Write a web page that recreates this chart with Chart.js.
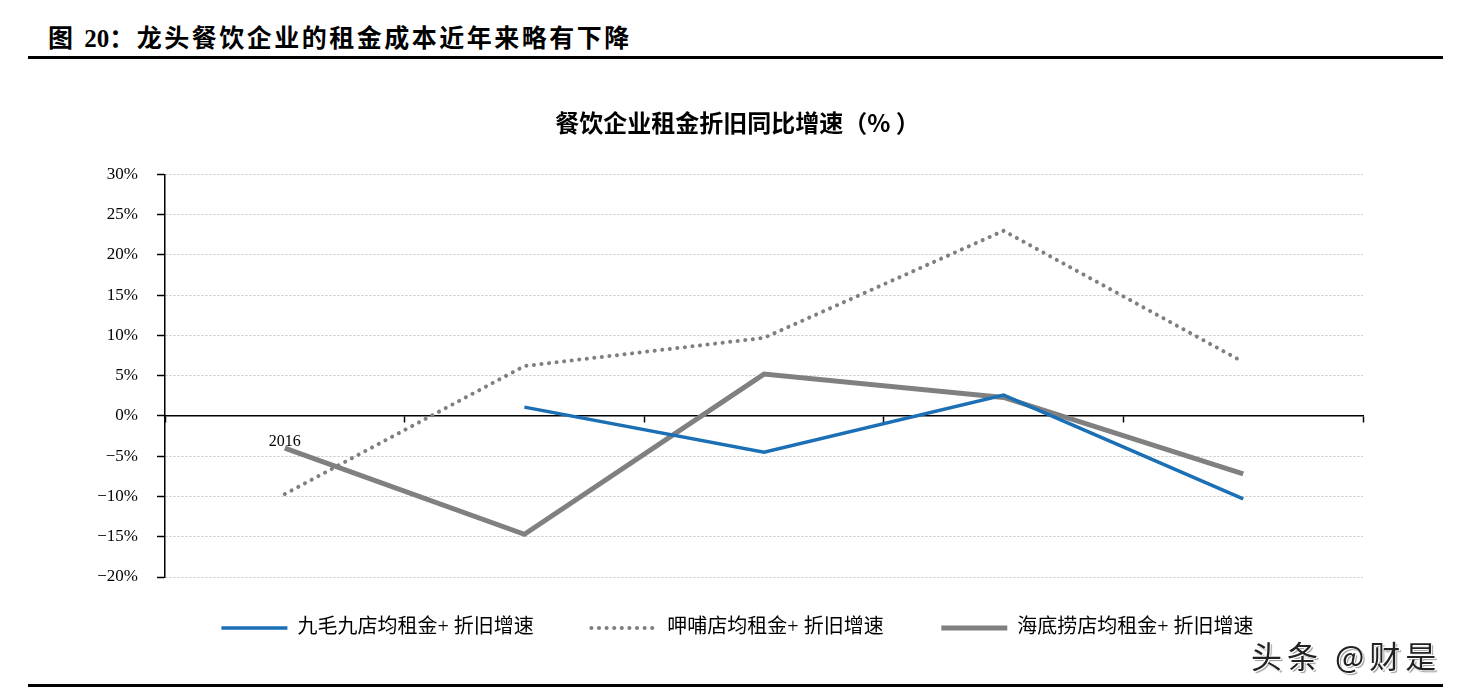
<!DOCTYPE html>
<html>
<head>
<meta charset="utf-8">
<script src="https://cdn.jsdelivr.net/npm/chart.js@4.4.0/dist/chart.umd.min.js"></script>
<style>
  html, body { margin: 0; padding: 0; background: #fff; }
  body { width: 1465px; height: 695px; position: relative; overflow: hidden; }
  #head {
    position: absolute; left: 48px; top: 18px;
    font: bold 25px "Liberation Serif", "Noto Sans CJK SC", serif;
    color: #000; letter-spacing: 2.5px;
  }
  #head span { letter-spacing: 0; }
  .rule { position: absolute; left: 28px; width: 1415px; height: 3px; background: #000; }
  #wrap { position: absolute; left: 0; top: 85px; width: 1465px; height: 563px; }
  #mark {
    position: absolute; left: 1251px; top: 632px;
    font: 31px "Noto Sans CJK SC", sans-serif; color: #222; letter-spacing: 5px;
    text-shadow: 1px 1px 0 #fff, -1px -1px 0 #fff, 2px 2px 1px #999;
    z-index: 2;
  }
</style>
</head>
<body>
<div id="head">图 <span>20</span>：龙头餐饮企业的租金成本近年来略有下降</div>
<div class="rule" style="top:56px"></div>
<div id="wrap"><canvas id="rentChart" width="1465" height="563"></canvas></div>
<div class="rule" style="top:684px"></div>
<div id="mark">头条 @财是</div>

<script>
// categories (only the first year is labelled on the original)
const years = ['2016', '2017', '2018', '2019', '2020'];
const tickLabels = ['2016', '', '', '', ''];

// 店均租金+折旧增速 (%)
const jiumaojiu = [null, 1.1, -4.5, 2.6, -10.3];
const xiabu = [-9.7, 6.2, 9.7, 23.0, 6.7];
const haidilao = [-4.0, -14.7, 5.2, 2.3, -7.2];

const seriesNames = ['九毛九店均租金+ 折旧增速', '呷哺店均租金+ 折旧增速', '海底捞店均租金+ 折旧增速'];

const serif = '"Liberation Serif", "Noto Sans CJK SC", serif';

document.addEventListener('DOMContentLoaded', () => {
  const ctx = document.getElementById('rentChart').getContext('2d');
  new Chart(ctx, {
    type: 'line',
    data: {
      labels: years,
      datasets: [
        {
          label: seriesNames[0],
          data: jiumaojiu,
          borderColor: '#1b6fb5',
          backgroundColor: '#1b6fb5',
          borderWidth: 3.5,
        },
        {
          label: seriesNames[1],
          data: xiabu,
          borderColor: '#7f7f7f',
          backgroundColor: '#7f7f7f',
          borderWidth: 4,
          borderDash: [0.1, 7.5],
          borderCapStyle: 'round',
        },
        {
          label: seriesNames[2],
          data: haidilao,
          borderColor: '#808080',
          backgroundColor: '#808080',
          borderWidth: 5,
        },
      ],
    },
    options: {
      responsive: false,
      animation: false,
      elements: { point: { radius: 0 }, line: { tension: 0 } },
      layout: { padding: { left: 10 } },
      scales: {
        x: {
          type: 'category',
          position: { y: 0 },
          offset: true,
          grid: {
            offset: true,
            drawOnChartArea: false,
            drawTicks: true,
            tickLength: 6,
            tickColor: '#000',
            tickWidth: 1.5,
          },
          border: { color: '#000', width: 1.5 },
          ticks: {
            color: '#000',
            font: { family: serif, size: 16 },
            padding: 10,
            maxRotation: 0,
            callback: (v, i) => tickLabels[i],
          },
        },
        y: {
          min: -20,
          max: 30,
          afterFit: (s) => { s.width = 155; },
          grid: {
            color: '#c4c4c4',
            lineWidth: 1,
            tickColor: '#000',
            tickBorderDash: [],
            tickLength: 8,
            tickWidth: 1.5,
          },
          border: { color: '#000', width: 1.5, dash: [2, 2] },
          ticks: {
            stepSize: 5,
            color: '#000',
            padding: 19,
            font: { family: serif, size: 17 },
            callback: (v) => (v < 0 ? '\u2212' : '') + Math.abs(v) + '%',
          },
        },
        yRight: {
          position: 'right',
          min: -20,
          max: 30,
          afterFit: (s) => { s.width = 102; },
          grid: { display: false },
          border: { display: false },
          ticks: { display: false },
        },
      },
      plugins: {
        title: {
          display: true,
          text: '餐饮企业租金折旧同比增速（% ）',
          color: '#000',
          font: { family: '"Noto Sans CJK SC", sans-serif', size: 24, weight: 'bold' },
          padding: { top: 23, bottom: 37.6 },
        },
        legend: {
          position: 'bottom',
          labels: {
            color: '#000',
            font: { family: serif, size: 20 },
            usePointStyle: true,
            pointStyle: 'line',
            pointStyleWidth: 66,
            padding: 41,
            generateLabels: (chart) => {
              const items = Chart.defaults.plugins.legend.labels.generateLabels(chart);
              items.forEach((it, i) => {
                const ds = chart.data.datasets[i];
                it.pointStyle = 'line';
                it.lineWidth = ds.borderWidth;
                it.lineDash = ds.borderDash || [];
                it.lineCap = ds.borderCapStyle || 'butt';
                if (i < items.length - 1) it.text = it.text + '\u2002 \u200a';
              });
              return items;
            },
          },
        },
        tooltip: { enabled: false },
      },
    },
  });
});
</script>
</body>
</html>
